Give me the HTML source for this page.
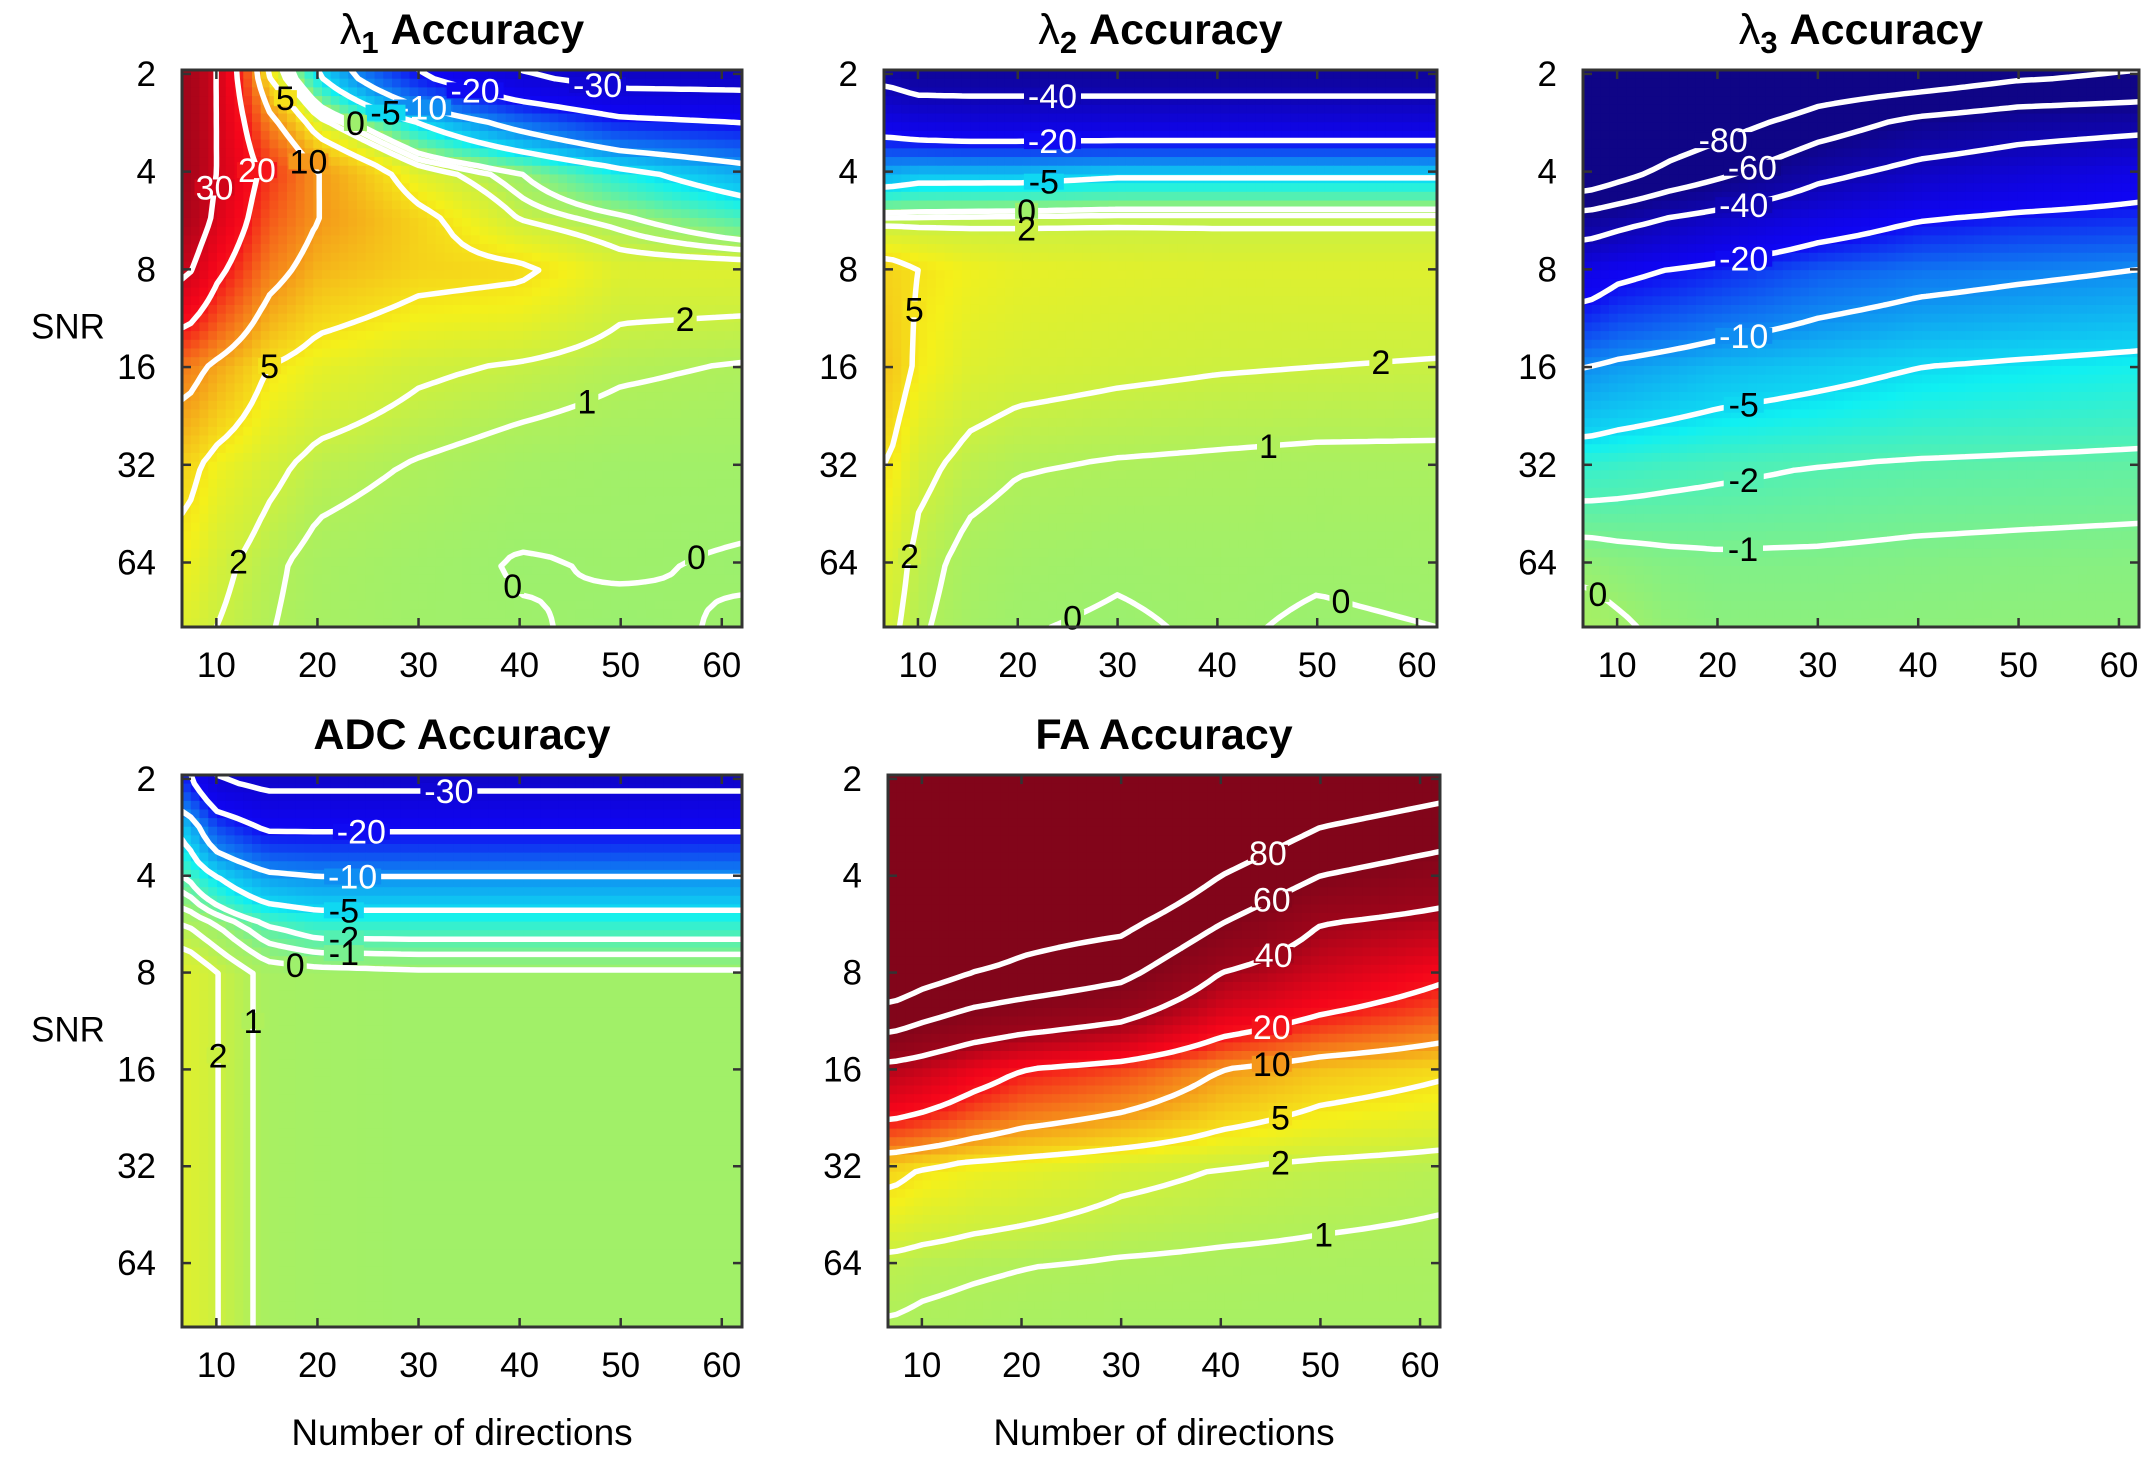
<!DOCTYPE html>
<html><head><meta charset="utf-8"><style>
html,body{margin:0;padding:0;background:#fff;}
svg{display:block;font-family:"Liberation Sans",sans-serif;}
</style></head><body>
<svg id="fig" width="2150" height="1475" viewBox="0 0 2150 1475" xmlns="http://www.w3.org/2000/svg"></svg>
<script>
// ---- data ----
const directionCols = [7,10,15,20,30,40,50,62];
const snrLog2Rows = [1,1.5,2,2.5,3,4,5,6,6.66];
const xTickLabels = [10,20,30,40,50,60];
const yTickLabels = [2,4,8,16,32,64];

const lambda1Values = [
 [40,30,5,-5,-20,-30,-35,-35],
 [40,30,12,3,-5,-12,-18,-20],
 [40,30,18,10,3,0,-4,-8],
 [38,28,15,10,6,2,0.5,-2],
 [32,22,12,8,6,5.5,3,3],
 [12,9,5,3.5,2.3,1.8,1.2,0.9],
 [6,4,2.5,1.5,0.9,0.4,0.2,0.2],
 [4,2.5,1.3,0.6,0.2,-0.05,0.05,-0.05],
 [3,2,1.1,0.5,0.15,0.05,-0.1,0.05]];
const lambda1Levels = [-30,-20,-10,-5,0,1,2,5,10,20,30];
const lambda1Labels = [[-30,47.6,1.14],[-20,35.4,1.24],[-10,30,1.5],[-5,26,1.6],[0,23,1.7],[5,14,1.46],[10,18,2.0],[20,12,2.0],[30,10,2.2],[5,15,3.9],[2,56,3.4],[1,45,4.0],[2,11,5.9],[0,38,6.3],[0,56,5.6]];

const lambda2Values = [
 [-45,-50,-50,-50,-50,-50,-50,-50],
 [-25,-27,-28,-28,-28,-28,-28,-28],
 [-8,-7,-7,-7,-6,-6,-6,-6],
 [1.5,1.5,1.6,1.7,1.8,1.8,1.8,1.8],
 [6,5,4,3.5,3.2,3,3,3],
 [7,4.5,3,2.6,2.3,2.1,2,1.9],
 [5,2.5,1.5,1.1,0.9,0.8,0.7,0.7],
 [3,1.5,0.6,0.3,0.1,0.2,0.1,0.2],
 [2.5,1.2,0.4,0.05,-0.1,0.1,-0.1,0]];
const lambda2Levels = [-40,-20,-5,0,1,2,5];
const lambda2Labels = [[-40,23.2,1.14],[-20,23.2,1.6],[-5,22.2,2.06],[0,21,2.3],[2,21,2.65],[5,12.7,3.4],[2,56.6,3.7],[1,45,4.4],[2,11,6.0],[0,23.6,6.17],[0,52.8,6.3]];

const lambda3Values = [
 [-150,-145,-135,-125,-100,-95,-85,-80],
 [-130,-120,-100,-90,-70,-55,-48,-45],
 [-100,-90,-75,-65,-45,-35,-30,-25],
 [-50,-45,-38,-33,-25,-20,-18,-17],
 [-25,-22,-20,-18,-14,-12,-11,-10],
 [-10,-9,-8,-7,-6,-5,-4.5,-4],
 [-3,-2.8,-2.5,-2.3,-2,-1.8,-1.7,-1.6],
 [-0.3,-0.5,-0.7,-0.8,-0.8,-0.7,-0.65,-0.6],
 [0.5,0.2,-0.3,-0.5,-0.5,-0.45,-0.4,-0.4]];
const lambda3Levels = [-80,-60,-40,-20,-10,-5,-2,-1,0];
const lambda3Labels = [[-80,19.5,1.42],[-60,22.2,1.7],[-40,22.5,2.2],[-20,22.5,2.97],[-10,22.5,3.6],[-5,22.2,4.28],[-2,22.2,5.08],[-1,22.5,5.75],[0,10,6.03]];

const adcValues = [
 [-18,-30,-33,-33,-33,-33,-33,-33],
 [-6,-15,-21,-21,-21,-21,-21,-21],
 [-2,-5,-9,-10,-10,-10,-10,-10],
 [1,0,-2,-3,-3,-3,-3,-3],
 [3,2.05,0.6,0.4,0.2,0.2,0.2,0.2],
 [3,2.05,0.6,0.4,0.2,0.2,0.2,0.2],
 [3,2.05,0.6,0.4,0.2,0.2,0.2,0.2],
 [3,2.05,0.6,0.4,0.2,0.2,0.2,0.2],
 [3,2.05,0.6,0.4,0.2,0.2,0.2,0.2]];
const adcLevels = [-30,-20,-10,-5,-2,-1,0,1,2];
const adcLabels = [[-30,33.4,1.17],[-20,24.5,1.56],[-10,23.2,1.99],[-5,22.5,2.32],[-2,22.5,2.63],[-1,22.2,2.94],[0,17.7,3.1],[1,13,3.53],[2,9.6,3.86]];

const faValues = [
 [150,150,145,140,130,120,100,90],
 [140,140,135,130,120,100,80,70],
 [130,128,125,120,110,80,60,50],
 [115,110,100,90,85,60,40,35],
 [100,90,80,75,65,40,30,22],
 [35,32,25,20,16,10,7,5.5],
 [6,5,4,3.5,2.5,2,1.6,1.3],
 [1.5,1.3,1.15,1.05,0.9,0.8,0.75,0.7],
 [0.9,0.8,0.7,0.6,0.5,0.5,0.5,0.5]];
const faLevels = [1,2,5,10,20,40,60,80];
const faLabels = [[80,44.2,1.62],[60,44.2,2.08],[40,44.6,2.62],[20,44.6,3.28],[10,44.6,3.82],[5,45.2,4.3],[2,45.9,4.97],[1,49.7,5.39]];

// ---- layout ----
const XMIN=6.6, XMAX=62, LMIN=0.96, LMAX=6.66;
const panels = [
 {name:'lambda1',title:'λ',sub:'1',x0:182,x1:742,y0:70,y1:627,vals:lambda1Values,levels:lambda1Levels,labels:lambda1Labels,snr:true,xl:false},
 {name:'lambda2',title:'λ',sub:'2',x0:884,x1:1437,y0:70,y1:627,vals:lambda2Values,levels:lambda2Levels,labels:lambda2Labels,snr:false,xl:false},
 {name:'lambda3',title:'λ',sub:'3',x0:1583,x1:2139,y0:70,y1:627,vals:lambda3Values,levels:lambda3Levels,labels:lambda3Labels,snr:false,xl:false},
 {name:'adc',title:'ADC',sub:'',x0:182,x1:742,y0:775,y1:1327,vals:adcValues,levels:adcLevels,labels:adcLabels,snr:true,xl:true},
 {name:'fa',title:'FA',sub:'',x0:888,x1:1440,y0:775,y1:1327,vals:faValues,levels:faLevels,labels:faLabels,snr:false,xl:true}
];

const NS='http://www.w3.org/2000/svg';
const svg=document.getElementById('fig');
function mk(tag,attrs,parent){const e=document.createElementNS(NS,tag);for(const k in attrs)e.setAttribute(k,attrs[k]);(parent||svg).appendChild(e);return e;}

const TV=[-200,-60,-40,-20,-10,-5,-2,0,1,2,5,10,20,40,60,200];
const TT=[0,0,0.05,0.13,0.27,0.35,0.45,0.53,0.55,0.58,0.64,0.72,0.86,0.97,1,1];
function tmap(v){if(v<=TV[0])return 0;for(let i=1;i<TV.length;i++){if(v<=TV[i]){const f=(v-TV[i-1])/(TV[i]-TV[i-1]);return TT[i-1]+f*(TT[i]-TT[i-1]);}}return 1;}
function cl(a){return Math.max(0,Math.min(1,a));}
function color(v){const t=tmap(v);let r=cl(1.5-Math.abs(4*t-3)),g=cl(1.5-Math.abs(4*t-2)),b=cl(1.5-Math.abs(4*t-1));
 r=r*0.9+0.06;g=g*0.92+0.02;b=b*0.85+0.1;
 return 'rgb('+Math.round(r*255)+','+Math.round(g*255)+','+Math.round(b*255)+')';}
function interp(arr,v){if(v<=arr[0])return [0,0];if(v>=arr[arr.length-1])return [arr.length-2,1];for(let i=1;i<arr.length;i++)if(v<=arr[i])return [i-1,(v-arr[i-1])/(arr[i]-arr[i-1])];}
function val(vals,x,l){const [ci,cf]=interp(directionCols,x);const [ri,rf]=interp(snrLog2Rows,l);
 const a=vals[ri][ci],b=vals[ri][ci+1],c=vals[ri+1][ci],d=vals[ri+1][ci+1];
 return (a*(1-cf)+b*cf)*(1-rf)+(c*(1-cf)+d*cf)*rf;}

panels.forEach(p=>{
 const g=mk('g',{});
 
 
 const W=p.x1-p.x0,H=p.y1-p.y0;
 const sx=x=>p.x0+(x-XMIN)/(XMAX-XMIN)*W;
 const sy=l=>p.y0+(l-LMIN)/(LMAX-LMIN)*H;
 const N=64;
 const F=[];
 for(let j=0;j<=N;j++){F.push([]);for(let i=0;i<=N;i++){F[j].push(val(p.vals,XMIN+i/N*(XMAX-XMIN),LMIN+j/N*(LMAX-LMIN)));}}
 const hm=mk('g',{},g);
 
 
 const cw=W/N,ch=H/N;
 for(let j=0;j<N;j++)for(let i=0;i<N;i++){
  const v=(F[j][i]+F[j][i+1]+F[j+1][i]+F[j+1][i+1])/4;
  const r=mk('rect',{x:(p.x0+i*cw).toFixed(2),y:(p.y0+j*ch).toFixed(2),width:(cw+0.7).toFixed(2),height:(ch+0.7).toFixed(2),fill:color(v)},hm);
  
  
 }
 const segsByLevel={};
 p.levels.forEach(L=>{
  const segs=[];
  for(let j=0;j<N;j++)for(let i=0;i<N;i++){
   const c=[[i,j,F[j][i]],[i+1,j,F[j][i+1]],[i+1,j+1,F[j+1][i+1]],[i,j+1,F[j+1][i]]];
   const pts=[];
   for(let k=0;k<4;k++){const a=c[k],b=c[(k+1)%4];
    if((a[2]<L)!==(b[2]<L)){const f=(L-a[2])/(b[2]-a[2]);pts.push([p.x0+(a[0]+f*(b[0]-a[0]))*cw,p.y0+(a[1]+f*(b[1]-a[1]))*ch]);}}
   if(pts.length===2)segs.push([pts[0],pts[1]]);
   else if(pts.length===4){segs.push([pts[0],pts[1]]);segs.push([pts[2],pts[3]]);}
  }
  segsByLevel[L]=segs;
  let d='';segs.forEach(s=>{d+='M'+s[0][0].toFixed(1)+' '+s[0][1].toFixed(1)+'L'+s[1][0].toFixed(1)+' '+s[1][1].toFixed(1);});
  const path=mk('path',{d:d,stroke:'#fff','stroke-width':5.5,'stroke-linecap':'round',fill:'none'},g);
  
  
 });
 p.labels.forEach(lb=>{
  const segs=segsByLevel[lb[0]]||[];
  const tx=sx(lb[1]),ty=sy(lb[2]);let best=null,bd=1e18;
  segs.forEach(s=>{const mx=(s[0][0]+s[1][0])/2,my=(s[0][1]+s[1][1])/2;const dd=(mx-tx)*(mx-tx)+(my-ty)*(my-ty);if(dd<bd){bd=dd;best=[mx,my];}});
  if(!best)return;
  const t=tmap(lb[0]);
  const txt=String(lb[0]);const tw=txt.length*17+6;
  const bg=mk('rect',{x:best[0]-tw/2,y:best[1]-8,width:tw,height:16,fill:color(lb[0])},g);
  
  
  const te=mk('text',{x:best[0],y:best[1]+12,'text-anchor':'middle','font-size':34,fill:(t<0.3||t>0.8)?'#fff':'#000'},g);
  te.textContent=txt;
  
  
 });
 const fr=mk('rect',{x:p.x0,y:p.y0,width:W,height:H,fill:'none',stroke:'#333','stroke-width':3},g);
 
 
 xTickLabels.forEach(v=>{
  const X=sx(v);
  mk('line',{x1:X,y1:p.y1,x2:X,y2:p.y1-9,stroke:'#333','stroke-width':2.5},g);
  mk('line',{x1:X,y1:p.y0,x2:X,y2:p.y0+9,stroke:'#333','stroke-width':2.5},g);
  const t=mk('text',{x:X,y:p.y1+50,'text-anchor':'middle','font-size':35,fill:'#000'},g);
  t.textContent=v;
  
  
 });
 yTickLabels.forEach(v=>{
  const Y=sy(Math.log2(v));
  mk('line',{x1:p.x0,y1:Y,x2:p.x0+9,y2:Y,stroke:'#333','stroke-width':2.5},g);
  mk('line',{x1:p.x1,y1:Y,x2:p.x1-9,y2:Y,stroke:'#333','stroke-width':2.5},g);
  const t=mk('text',{x:p.x0-26,y:Y+12,'text-anchor':'end','font-size':35,fill:'#000'},g);
  t.textContent=v;
  
  
 });
 const ti=mk('text',{x:(p.x0+p.x1)/2,y:p.y0-26,'text-anchor':'middle','font-size':43,'font-weight':'bold',fill:'#000'},g);
 
 
 if(p.sub){
  const a=mk('tspan',{'font-weight':'normal'},ti);a.textContent=p.title;
  const b=mk('tspan',{'font-size':31,dy:9},ti);b.textContent=p.sub;
  const c=mk('tspan',{dy:-9},ti);c.textContent=' Accuracy';
 } else ti.textContent=p.title+' Accuracy';
 if(p.snr){
  const s=mk('text',{x:68,y:(p.y0+p.y1)/2+2-((p.y1-p.y0)*0.05)+16,'text-anchor':'middle','font-size':35,fill:'#000'},g);
  s.textContent='SNR';
  
  
 }
 if(p.xl){
  const s=mk('text',{x:(p.x0+p.x1)/2,y:1445,'text-anchor':'middle','font-size':37,fill:'#000'},g);
  s.textContent='Number of directions';
  
  
 }
});
</script>
</body></html>
